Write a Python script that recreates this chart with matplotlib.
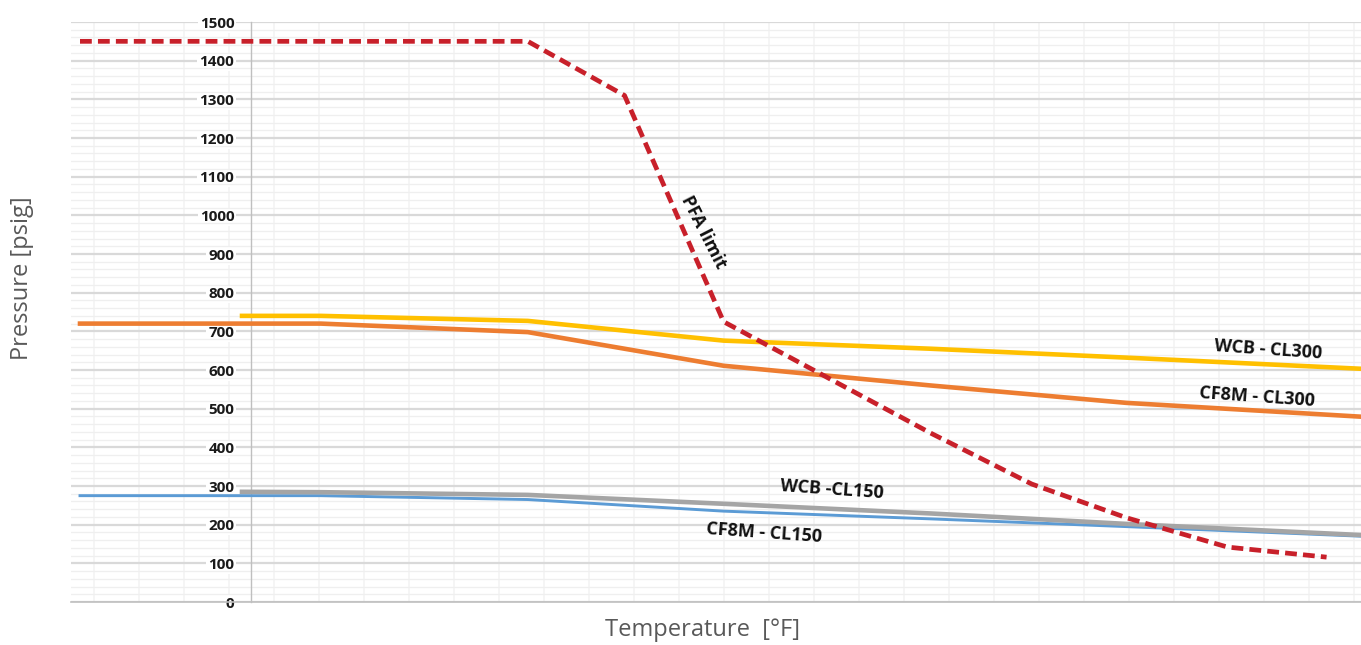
import matplotlib
matplotlib.use('Agg')
import matplotlib.pyplot as plt
import numpy as np

# ========== data (temperature in °F, pressure in psig) ==========
pfa_temp = [-76, 123, 166, 210, 302, 347, 389, 434, 478]
pfa_pres = [1450, 1450, 1310, 725, 437, 305, 218, 142, 116]

wcb300_temp = [-4, 31, 123, 210, 302, 389, 494]
wcb300_pres = [740, 740, 727, 676, 655, 632, 603]

cf8m300_temp = [-76, 31, 123, 210, 302, 389, 494]
cf8m300_pres = [720, 720, 698, 611, 560, 515, 479]

wcb150_temp = [-4, 31, 123, 210, 302, 389, 494]
wcb150_pres = [285, 284, 277, 254, 229, 202, 173]

cf8m150_temp = [-76, 31, 123, 210, 302, 389, 494]
cf8m150_pres = [275, 275, 265, 235, 215, 195, 170]

y_ticks = list(range(0, 1501, 100))

FONT = ['Open Sans', 'DejaVu Sans']

fig = plt.figure(figsize=(13.61, 6.45), dpi=100)
ax = fig.add_axes([71 / 1361, 43 / 645, 1290 / 1361, 580 / 645])

ax.set_xlim(-80, 493.3)
ax.set_ylim(0, 1500)

# 网格
ax.set_yticks(y_ticks)
ax.set_yticks(np.arange(0, 1501, 20), minor=True)
ax.set_xticks(np.arange(-70, 494, 20))
ax.grid(True, which='major', axis='y', color='#d9d9d9', linewidth=1.6, zorder=0)
ax.grid(True, which='minor', axis='y', color='#efefef', linewidth=0.9, zorder=0)
ax.grid(True, which='major', axis='x', color='#f2f2f2', linewidth=1.1, zorder=0)
ax.set_axisbelow(True)

# 坐标轴
for s in ['top', 'right']:
    ax.spines[s].set_visible(False)
ax.spines['left'].set_position(('data', 0))
ax.spines['left'].set_color('#bfbfbf')
ax.spines['left'].set_linewidth(1.0)
ax.spines['bottom'].set_color('#bfbfbf')
ax.spines['bottom'].set_linewidth(1.2)
ax.tick_params(axis='x', which='both', length=0, labelbottom=False)
ax.tick_params(axis='y', which='both', length=0, pad=12)
ax.set_yticklabels([str(v) for v in y_ticks], fontsize=11, fontweight='bold',
                   family=FONT, color='#1a1a1a')
for lab in ax.get_yticklabels():
    lab.set_bbox(dict(facecolor='white', edgecolor='none', pad=1.5))

# 曲线
ax.plot(cf8m150_temp, cf8m150_pres, color='#5B9BD5', lw=2.1, zorder=3)
ax.plot(wcb150_temp, wcb150_pres, color='#A5A5A5', lw=3.3, zorder=4)
ax.plot(cf8m300_temp, cf8m300_pres, color='#ED7D31', lw=3.3, zorder=3)
ax.plot(wcb300_temp, wcb300_pres, color='#FFC000', lw=3.3, zorder=3)
ax.plot(pfa_temp, pfa_pres, color='#C8202A', lw=3.4, zorder=5,
        dashes=(2.5, 1.3), dash_capstyle='butt')

# 标签
lab_kw = dict(fontsize=13, fontweight='bold', family=FONT, color='#111111',
              ha='center', va='center', rotation_mode='anchor', zorder=6)
ax.text(201, 957, 'PFA limit', rotation=-63, **lab_kw)
ax.text(452, 652, 'WCB - CL300', rotation=-4, **lab_kw)
ax.text(447, 531, 'CF8M - CL300', rotation=-4, **lab_kw)
ax.text(258, 290, 'WCB -CL150', rotation=-4, **lab_kw)
ax.text(228, 178, 'CF8M - CL150', rotation=-4, **lab_kw)

# 轴标题
fig.text(22 / 1361, 1 - 278 / 645, 'Pressure [psig]', rotation=90, ha='center',
         va='center', fontsize=17, color='#595959', family=FONT,
         fontweight='normal')
fig.text(703 / 1361, 1 - 630 / 645, 'Temperature  [°F]', ha='center', va='center',
         fontsize=17, color='#595959', family=FONT, fontweight='normal')

fig.savefig('out.png', dpi=100)
plt.close(fig)
